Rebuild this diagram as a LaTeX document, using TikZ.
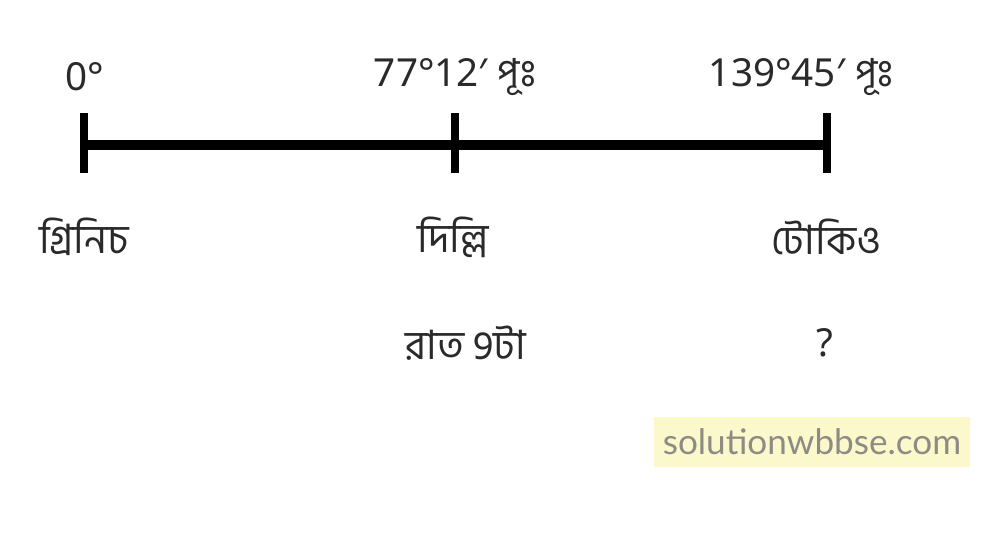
\documentclass[tikz,border=0pt]{standalone}
\usepackage{fontspec}
\setmainfont{Noto Sans}
\newfontfamily\bnfont[Script=Bengali]{Hind Siliguri}
\newfontfamily\markfont{Lato}
\usetikzlibrary{positioning}
\definecolor{labeltext}{HTML}{2A2A2A}
\definecolor{markfill}{HTML}{FBF8CC}
\definecolor{markgray}{HTML}{8C8C84}
\tikzset{
  axis line/.style={line width=5.8pt},
  tick mark/.style={line width=5pt},
  deg label/.style={font=\fontsize{22}{26}\selectfont, text=labeltext, inner sep=0pt},
  place label/.style={font=\bnfont\fontsize{23}{27}\selectfont, text=labeltext, inner sep=0pt},
  web mark/.style={font=\markfont\fontsize{20}{24}\selectfont, text=markgray, fill=markfill,
    minimum width=180pt, minimum height=28pt, inner sep=0pt},
}
\begin{document}
\begin{tikzpicture}[x=0.02cm,y=-0.02cm]
    \useasboundingbox (0,0) rectangle (984,542);

    % Meridiane
    \coordinate (green) at (84,145);
    \coordinate (delhi) at (455,145);
    \coordinate (tokyo) at (827,145);

    \draw[axis line] (green) -- (tokyo);
    \foreach \point in {green,delhi,tokyo}
        \draw[tick mark] (\point) ++(0,-32) -- ++(0,60);

    % Longitudini
    \node[deg label] (lonGreen) at (85,77) {0°};
    \node[deg label] (lonDelhi) at (455,77) {77°12′ {\bnfont পূঃ}};
    \node[deg label] (lonTokyo) at (801,77) {139°45′ {\bnfont পূঃ}};

    % Luoghi
    \node[place label] (nameGreen) at (84,237) {গ্রিনিচ};
    \node[place label] (nameDelhi) at (453,237) {দিল্লি};
    \node[place label] (nameTokyo) at (826,237) {টোকিও};

    % Ore
    \node[place label] (timeDelhi) at (466,343) {রাত 9টা};
    \node[deg label] (timeTokyo) at (825,343) {?};

    \node[web mark] (site) at (812,442) {solutionwbbse.com};
\end{tikzpicture}
\end{document}
